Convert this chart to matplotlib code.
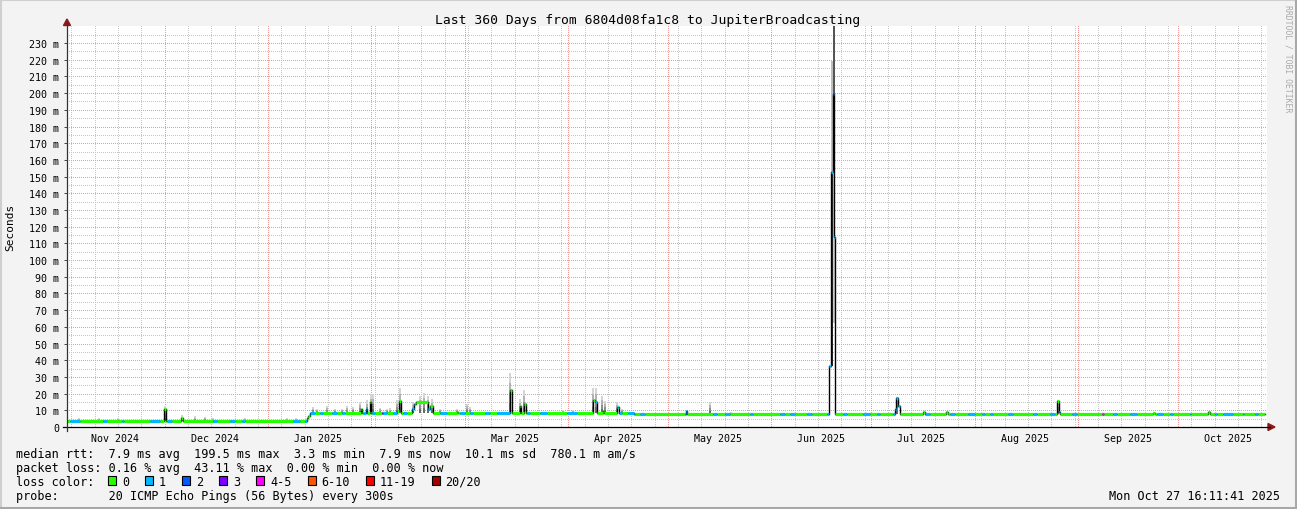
import numpy as np
import matplotlib
matplotlib.use('Agg')
import matplotlib.pyplot as plt
import matplotlib.dates as mdates
from matplotlib.patches import Rectangle, Polygon
from matplotlib.lines import Line2D
from datetime import datetime, timedelta

W, H = 1297, 510
MONO = 'DejaVu Sans Mono'

end = datetime(2025, 10, 27, 16, 11, 41)
start = end - timedelta(days=360)
data_end = 359.4   # last sample (days from start)

# median rtt in ms, holds from each day (offset from start) until the next one
med_day = [0.0, 29.1, 29.7, 34.2, 34.8, 72.0, 72.3, 72.75, 88.2, 88.5,
           89.7, 90.0, 90.9, 91.2, 99.0, 99.6, 100.2, 103.5, 104.1, 104.7,
           108.3, 108.9, 109.8, 117.0, 117.3, 132.9, 133.5, 135.9, 136.2, 137.1,
           137.7, 157.8, 158.4, 159.0, 160.8, 161.1, 165.0, 165.6, 170.0, 185.7,
           186.0, 228.6, 229.2, 229.8, 230.1, 230.4, 248.4, 248.7, 249.3, 249.9,
           256.8, 257.4, 263.7, 264.3, 297.0, 297.6, 297.9, 325.8, 326.4, 342.3,
           342.9]
med_ms = [3.3, 10.8, 3.3, 5.4, 3.3, 5.2, 6.6, 8.1, 10.8, 8.1,
          10.8, 8.1, 14.8, 8.1, 9.8, 15.4, 8.1, 11.0, 13.8, 15.2,
          10.5, 12.5, 8.1, 9.2, 8.1, 22.2, 8.1, 12.8, 8.1, 13.8,
          8.1, 16.2, 14.8, 8.1, 9.8, 8.1, 11.8, 8.1, 7.8, 9.8,
          7.8, 36.5, 153.0, 199.5, 114.0, 7.8, 11.0, 17.2, 12.5, 7.8,
          9.0, 7.8, 9.0, 7.8, 15.4, 9.0, 7.8, 8.6, 7.8, 9.0,
          7.8]

# periods with lost pings (day from, day to, pings lost of 20)
loss_from = [0.9, 10.8, 16.5, 24.9, 30.0, 43.8, 48.9, 52.5, 67.8, 71.4,
             72.9, 75.9, 79.5, 82.5, 88.8, 91.5, 94.5, 94.8, 97.8, 100.8,
             103.5, 108.3, 111.9, 117.9, 120.9, 125.4, 129.0, 138.0, 141.9, 150.0,
             158.4, 165.3, 168.3, 171.9, 185.4, 193.8, 197.4, 204.9, 213.9, 216.9,
             222.0, 228.0, 228.6, 229.8, 230.1, 232.8, 238.8, 243.0, 247.8, 248.4,
             257.4, 264.9, 270.3, 274.5, 276.9, 282.3, 289.8, 294.9, 297.6, 301.5,
             310.5, 313.8, 318.9, 327.0, 330.9, 336.9, 344.4, 346.8, 352.8, 356.4]
loss_to = [3.9, 12.0, 17.1, 27.9, 31.5, 45.0, 50.4, 53.4, 69.9, 72.0,
           74.4, 76.8, 81.0, 83.4, 90.0, 92.4, 94.8, 96.0, 99.0, 102.0,
           104.4, 108.9, 114.0, 119.4, 121.8, 126.9, 132.9, 138.9, 144.0, 153.0,
           159.0, 166.5, 170.4, 173.4, 186.0, 195.0, 198.9, 205.8, 215.4, 218.4,
           223.5, 228.6, 229.8, 230.1, 230.4, 234.0, 240.9, 243.9, 248.4, 249.9,
           258.9, 266.4, 272.4, 275.4, 277.8, 283.8, 291.0, 296.4, 297.9, 303.0,
           311.1, 315.0, 321.0, 328.8, 331.8, 337.2, 345.0, 349.8, 353.1, 357.3]
loss_n = [1, 1, 1, 1, 1, 1, 1, 1, 1, 1,
          1, 1, 1, 1, 1, 1, 3, 1, 1, 1,
          1, 1, 1, 1, 1, 1, 1, 1, 1, 1,
          1, 1, 1, 1, 1, 1, 1, 1, 1, 1,
          1, 1, 1, 2, 1, 1, 1, 1, 1, 1,
          1, 1, 1, 1, 1, 1, 1, 1, 1, 1,
          4, 1, 1, 1, 1, 1, 1, 1, 1, 1]

# smoke (spread of the 20 pings), ms
smoke_day = [3.6, 9.6, 15.3, 29.4, 34.5, 38.4, 41.4, 43.8, 53.4, 66.0,
             68.7, 73.8, 75.0, 78.0, 80.4, 82.5, 84.0, 85.8, 87.9, 90.0,
             91.2, 91.8, 93.9, 96.0, 96.9, 99.0, 99.9, 103.8, 105.9, 107.1,
             108.3, 109.5, 111.9, 117.0, 120.0, 120.9, 132.9, 135.9, 137.1, 148.8,
             151.8, 157.8, 158.7, 160.5, 161.4, 165.0, 166.5, 192.9, 199.2, 249.0,
             297.3]
smoke_lo = [3.3] * 11 + [8.1] * 36 + [7.8] * 4
smoke_hi = [5.4, 5.4, 5.4, 12.8, 7.2, 6.4, 6.0, 5.4, 5.4, 5.4,
            5.4, 11.9, 11.0, 12.8, 10.5, 10.9, 12.8, 12.0, 14.8, 16.0,
            19.8, 19.8, 11.5, 10.9, 11.2, 16.0, 23.4, 14.8, 18.8, 20.4,
            18.8, 16.8, 10.9, 10.9, 13.8, 12.0, 32.4, 16.8, 22.2, 10.3,
            10.3, 23.4, 23.4, 18.8, 15.8, 15.0, 10.9, 15.0, 8.9, 18.0,
            16.0]

# June outage smoke bands (day, width, low ms, high ms, gray level)
jun_day = [229.5, 229.5, 230.0, 230.0, 230.25]
jun_w = [0.6, 0.6, 0.6, 0.6, 0.3]
jun_lo = [36.5, 153.0, 197.0, 62.0, 62.0]
jun_hi = [153.0, 219.0, 245.0, 197.0, 114.0]
jun_gray = [40, 190, 85, 200, 205]

loss_labels = ['0', '1', '2', '3', '4-5', '6-10', '11-19', '20/20']
loss_colors = ['#26ff00', '#00b8ff', '#0059ff', '#7e00ff', '#ff00ff', '#ff5500', '#ff0000', '#a10000']


def loss_color(n):
    if n == 0:
        return loss_colors[0]
    if n <= 3:
        return loss_colors[n]
    if n <= 5:
        return loss_colors[4]
    if n <= 10:
        return loss_colors[5]
    if n <= 19:
        return loss_colors[6]
    return loss_colors[7]


def fx(x):
    return x / W


def fy(y):
    return 1 - y / H


fig = plt.figure(figsize=(W / 100, H / 100), dpi=100, facecolor='#f3f3f3')
AW, AH = 1200, 401
ax = fig.add_axes([fx(67), fy(428), AW / W, AH / H])
ax.set_facecolor('white')
for s in ax.spines.values():
    s.set_visible(False)

t0 = mdates.date2num(start)
ymax = 240.2
ax.set_xlim(t0, t0 + 360)
ax.set_ylim(0, ymax)

# dotted grid drawn as a pixel raster (1 on / 1 off like rrdtool)
grid = np.zeros((AH, AW, 4))
minor_c = (0.78, 0.78, 0.78, 1)
major_c = (0.94, 0.6, 0.6, 1)


def vline(day, c):
    col = int(round(day / 360 * AW))
    if 0 <= col < AW:
        grid[::2, col] = c


def hline(v, c):
    row = int(round(AH - v / ymax * AH))
    if 0 <= row < AH:
        grid[row, ::2] = c


sunday = start + timedelta(days=(6 - start.weekday()) % 7)
sunday = sunday.replace(hour=0, minute=0, second=0)
d = sunday
while d < end:
    vline((d - start).total_seconds() / 86400, minor_c)
    d += timedelta(days=7)
for v in range(5, 240, 10):
    hline(v, minor_c)
for v in range(10, 231, 10):
    hline(v, major_c)
months = [datetime(2024, 12, 1)] + [datetime(2025, m, 1) for m in range(1, 11)]
for m in months:
    vline((m - start).total_seconds() / 86400, major_c)
ax.imshow(grid, extent=(t0, t0 + 360, 0, ymax), aspect='auto',
          interpolation='nearest', zorder=0)

# smoke
shades = ['#6a6a6a', '#8e8e8e', '#b2b2b2', '#d4d4d4']


def smoke(day, lo, hi, w):
    step = (hi - lo) / len(shades)
    for k, c in enumerate(shades):
        ax.bar(t0 + day, step, width=w, bottom=lo + k * step, color=c,
               linewidth=0, align='center', zorder=2)


for dd, lo, hi in zip(smoke_day, smoke_lo, smoke_hi):
    smoke(dd, lo, hi, 0.45)
for dd, w, lo, hi, g in zip(jun_day, jun_w, jun_lo, jun_hi, jun_gray):
    ax.bar(t0 + dd, hi - lo, width=w, bottom=lo, color=str(g / 255),
           linewidth=0, align='center', zorder=2)

# median line: black steps, coloured by loss on top
md = np.array(med_day)
mv = np.array(med_ms)
xs = np.append(md, data_end) + t0
ys = np.append(mv, mv[-1])
ax.step(xs, ys, where='post', color='black', lw=1.0, zorder=3)

bps = sorted(set(med_day + loss_from + loss_to + [data_end]))
bps = [b for b in bps if b <= data_end]
vals, x0s, x1s, cols = [], [], [], []
for a, b in zip(bps[:-1], bps[1:]):
    v = mv[np.searchsorted(md, a, side='right') - 1]
    n = 0
    for lf, lt, ln in zip(loss_from, loss_to, loss_n):
        if lf <= a < lt:
            n = ln
    vals.append(v)
    x0s.append(t0 + a)
    x1s.append(t0 + b)
    cols.append(loss_color(n))
ax.hlines(vals, x0s, x1s, colors=cols, lw=2.3, zorder=4)

# ticks
yt = list(range(0, 231, 10))
ax.set_yticks(yt)
ax.set_yticklabels(['0'] + ['%d m' % v for v in yt[1:]], fontfamily=MONO, fontsize=7.2)
ax.tick_params(axis='y', length=2.5, width=0.7, color='#444444', pad=3)
mids = [datetime(2024, 11, 16), datetime(2024, 12, 16)] + [datetime(2025, m, 16) for m in range(1, 11)]
ax.set_xticks([mdates.date2num(m) for m in mids])
ax.set_xticklabels([m.strftime('%b %Y') for m in mids], fontfamily=MONO, fontsize=7.2)
ax.tick_params(axis='x', length=0, pad=4)

# axes with arrows
fig.add_artist(Line2D([fx(63), fx(1270)], [fy(428), fy(428)], color='black', lw=0.9, transform=fig.transFigure))
fig.add_artist(Line2D([fx(67), fx(67)], [fy(432), fy(24)], color='#333333', lw=0.9, transform=fig.transFigure))
fig.add_artist(Polygon([(fx(1268), fy(424.5)), (fx(1275), fy(428)), (fx(1268), fy(431.5))],
                       closed=True, color='#8b1a1a', transform=fig.transFigure))
fig.add_artist(Polygon([(fx(63.5), fy(26.5)), (fx(67), fy(20)), (fx(70.5), fy(26.5))],
                       closed=True, color='#8b1a1a', transform=fig.transFigure))

# texts
fig.text(fx(648), fy(24), 'Last 360 Days from 6804d08fa1c8 to JupiterBroadcasting',
         ha='center', va='baseline', fontfamily=MONO, fontsize=9.4)
fig.text(fx(10), fy(227), 'Seconds', rotation=90, ha='center', va='center',
         fontfamily=MONO, fontsize=8)
fig.text(fx(1288), fy(5), 'RRDTOOL / TOBI OETIKER', rotation=270, ha='center', va='top',
         fontfamily=MONO, fontsize=5.9, color='#aaaaaa')

lines = ['median rtt:  7.9 ms avg  199.5 ms max  3.3 ms min  7.9 ms now  10.1 ms sd  780.1 m am/s',
         'packet loss: 0.16 % avg  43.11 % max  0.00 % min  0.00 % now',
         'loss color:',
         'probe:       20 ICMP Echo Pings (56 Bytes) every 300s']
for i, t in enumerate(lines):
    fig.text(fx(16), fy(458 + 14 * i), t, ha='left', va='baseline', fontfamily=MONO, fontsize=8.5)
fig.text(fx(1280), fy(500), 'Mon Oct 27 16:11:41 2025', ha='right', va='baseline',
         fontfamily=MONO, fontsize=8.5)

cw = 7.1
x = 108.0
for lab, c in zip(loss_labels, loss_colors):
    fig.add_artist(Rectangle((fx(x), fy(486)), 8 / W, 9 / H, transform=fig.transFigure,
                             facecolor=c, edgecolor='black', lw=0.8))
    fig.text(fx(x + 14), fy(486), lab, ha='left', va='baseline', fontfamily=MONO, fontsize=8.5)
    x += 14 + len(lab) * cw + 16

# image frame
fig.add_artist(Line2D([0, 1], [fy(1), fy(1)], color='#cfcfcf', lw=1.5, transform=fig.transFigure))
fig.add_artist(Line2D([fx(1), fx(1)], [0, 1], color='#cfcfcf', lw=1.5, transform=fig.transFigure))
fig.add_artist(Line2D([0, 1], [fy(508.5), fy(508.5)], color='#a8a8a8', lw=2.2, transform=fig.transFigure))
fig.add_artist(Line2D([fx(1295.5), fx(1295.5)], [0, 1], color='#a8a8a8', lw=2.2, transform=fig.transFigure))

fig.savefig('out.png', dpi=100, facecolor=fig.get_facecolor())
